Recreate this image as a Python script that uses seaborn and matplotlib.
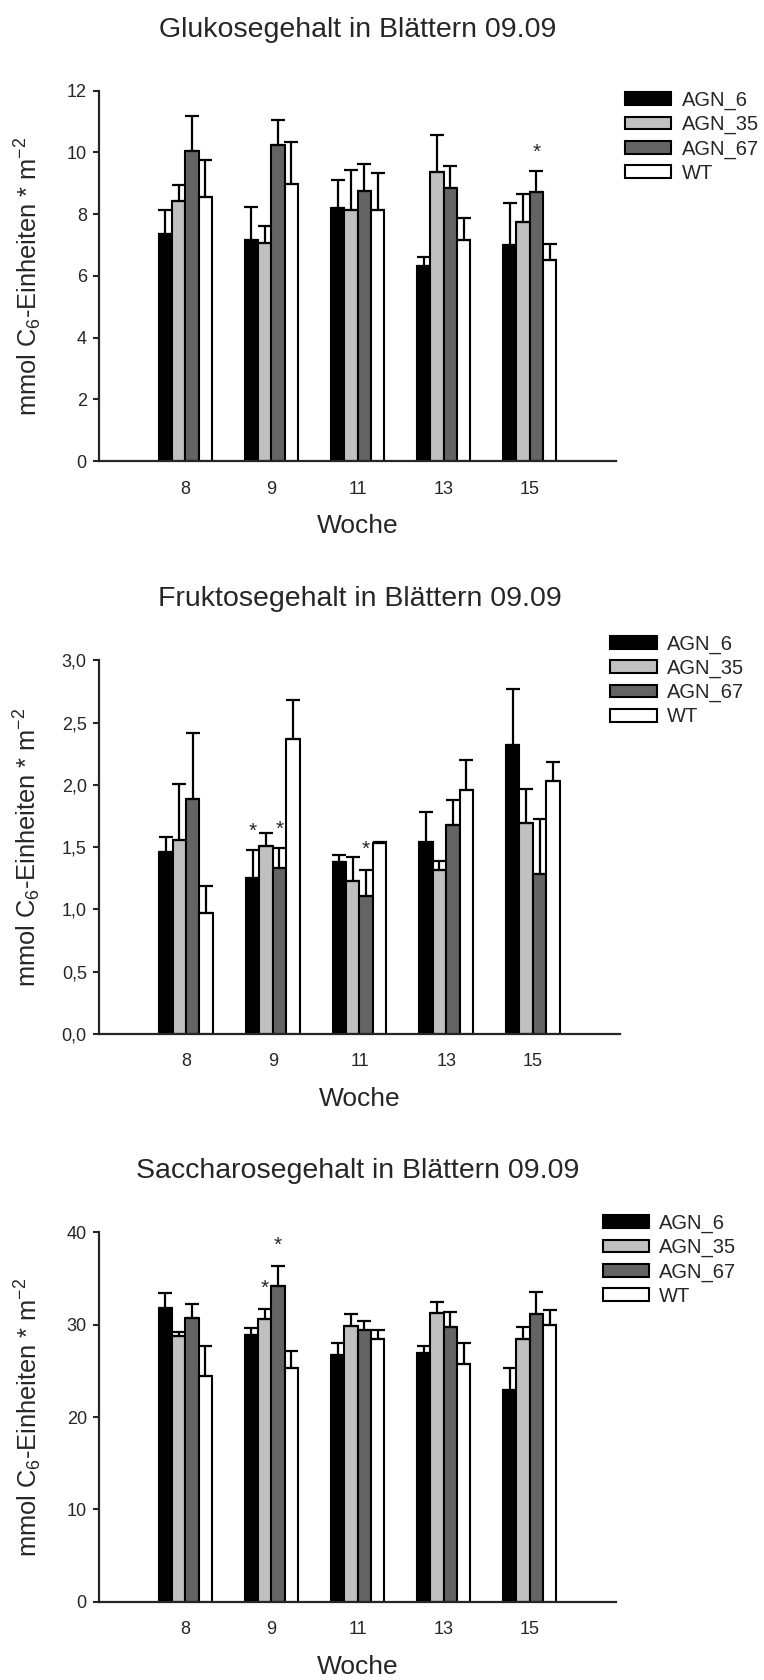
import numpy as np
import pandas as pd
import matplotlib
matplotlib.use("Agg")
import matplotlib.pyplot as plt
import seaborn as sns

# --- data ---
weeks = ["8", "9", "11", "13", "15"]
lines = ["AGN_6", "AGN_35", "AGN_67", "WT"]
colors = ["#000000", "#c0c0c0", "#646464", "#ffffff"]

# rows = lines (AGN_6, AGN_35, AGN_67, WT), cols = weeks
glu_mean = [[7.37, 7.17, 8.21, 6.32, 7.00],
            [8.44, 7.08, 8.15, 9.37, 7.75],
            [10.05, 10.24, 8.76, 8.84, 8.72],
            [8.57, 8.99, 8.15, 7.16, 6.52]]
glu_err = [[0.76, 1.07, 0.91, 0.29, 1.35],
           [0.51, 0.54, 1.27, 1.20, 0.92],
           [1.13, 0.82, 0.85, 0.73, 0.67],
           [1.18, 1.35, 1.20, 0.71, 0.52]]
glu_stars = [("15", "AGN_67", 10.0)]

fru_mean = [[1.46, 1.25, 1.38, 1.54, 2.32],
            [1.56, 1.51, 1.23, 1.32, 1.69],
            [1.89, 1.33, 1.11, 1.68, 1.285],
            [0.975, 2.37, 1.53, 1.96, 2.03]]
fru_err = [[0.12, 0.23, 0.06, 0.24, 0.45],
           [0.45, 0.10, 0.19, 0.065, 0.28],
           [0.53, 0.16, 0.21, 0.20, 0.44],
           [0.215, 0.31, 0.01, 0.24, 0.15]]
fru_stars = [("9", "AGN_6", 1.63), ("9", "AGN_67", 1.64), ("11", "AGN_67", 1.48)]

sac_mean = [[31.8, 28.9, 26.7, 26.95, 22.9],
            [28.8, 30.6, 29.9, 31.3, 28.4],
            [30.7, 34.2, 29.4, 29.7, 31.2],
            [24.4, 25.3, 28.4, 25.7, 29.95]]
sac_err = [[1.6, 0.7, 1.3, 0.75, 2.4],
           [0.4, 1.1, 1.3, 1.2, 1.3],
           [1.5, 2.1, 1.0, 1.65, 2.3],
           [3.3, 1.8, 1.0, 2.3, 1.65]]
sac_stars = [("9", "AGN_35", 33.9), ("9", "AGN_67", 38.6)]

titles = ["Glukosegehalt in Blättern 09.09",
          "Fruktosegehalt in Blättern 09.09",
          "Saccharosegehalt in Blättern 09.09"]
yticks = [[0, 2, 4, 6, 8, 10, 12],
          [0, 0.5, 1.0, 1.5, 2.0, 2.5, 3.0],
          [0, 10, 20, 30, 40]]
ytick_labels = [["0", "2", "4", "6", "8", "10", "12"],
                ["0,0", "0,5", "1,0", "1,5", "2,0", "2,5", "3,0"],
                ["0", "10", "20", "30", "40"]]

sns.set_style("ticks")
plt.rcParams["font.family"] = ["Liberation Sans", "DejaVu Sans"]
plt.rcParams["mathtext.default"] = "regular"

fig = plt.figure(figsize=(7.64, 16.8), dpi=100)
ax_rects = [[0.130, 0.7255, 0.676, 0.2205],
            [0.130, 0.3845, 0.681, 0.2225],
            [0.130, 0.0465, 0.676, 0.220]]
legend_anchor = [(1.018, 1.000), (0.982, 1.069), (0.975, 1.050)]

panels = [(glu_mean, glu_err, glu_stars),
          (fru_mean, fru_err, fru_stars),
          (sac_mean, sac_err, sac_stars)]

for i, (means, errs, stars) in enumerate(panels):
    ax = fig.add_axes(ax_rects[i])
    df = pd.DataFrame({
        "Woche": np.tile(weeks, len(lines)),
        "line": np.repeat(lines, len(weeks)),
        "value": np.ravel(means),
    })
    sns.barplot(data=df, x="Woche", y="value", hue="line", order=weeks,
                hue_order=lines, palette=colors, saturation=1, width=0.62,
                edgecolor="black", linewidth=1.5, errorbar=None, ax=ax)
    bar_groups = list(ax.containers)

    # upper error bars only
    for j, cont in enumerate(bar_groups):
        xs = [b.get_x() + b.get_width() / 2 for b in cont]
        up = np.array(errs[j])
        ax.errorbar(xs, means[j], yerr=[np.zeros_like(up), up], fmt="none",
                    ecolor="black", elinewidth=1.6, capsize=5, capthick=1.6,
                    zorder=1)

    # significance stars
    for wk, ln, yv in stars:
        bar = bar_groups[lines.index(ln)][weeks.index(wk)]
        ax.text(bar.get_x() + bar.get_width() / 2, yv, "*", ha="center",
                va="center", fontsize=15)

    ax.set_xlim(-1.0, 5.0)
    ax.set_ylim(yticks[i][0], yticks[i][-1])
    ax.set_yticks(yticks[i])
    ax.set_yticklabels(ytick_labels[i])
    ax.tick_params(axis="x", length=0, pad=14, labelsize=13)
    ax.tick_params(axis="y", length=4, width=1.5, pad=5, labelsize=13)
    for s in ["top", "right"]:
        ax.spines[s].set_visible(False)
    for s in ["left", "bottom"]:
        ax.spines[s].set_linewidth(1.6)

    ax.set_title(titles[i], fontsize=20.5, pad=39)
    ax.set_xlabel("Woche", fontsize=19, labelpad=12)
    ax.set_ylabel(r"mmol C$_6$-Einheiten * m$^{-2}$", fontsize=18.3)
    ax.yaxis.set_label_coords(-0.108, 0.5)

    handles, labels = ax.get_legend_handles_labels()
    ax.legend(handles, labels, loc="upper left", bbox_to_anchor=legend_anchor[i],
              frameon=False, fontsize=14.5, borderpad=0, borderaxespad=0,
              handlelength=2.3, handleheight=0.6, handletextpad=0.5,
              labelspacing=0.25)

fig.savefig("out.png", dpi=100)
